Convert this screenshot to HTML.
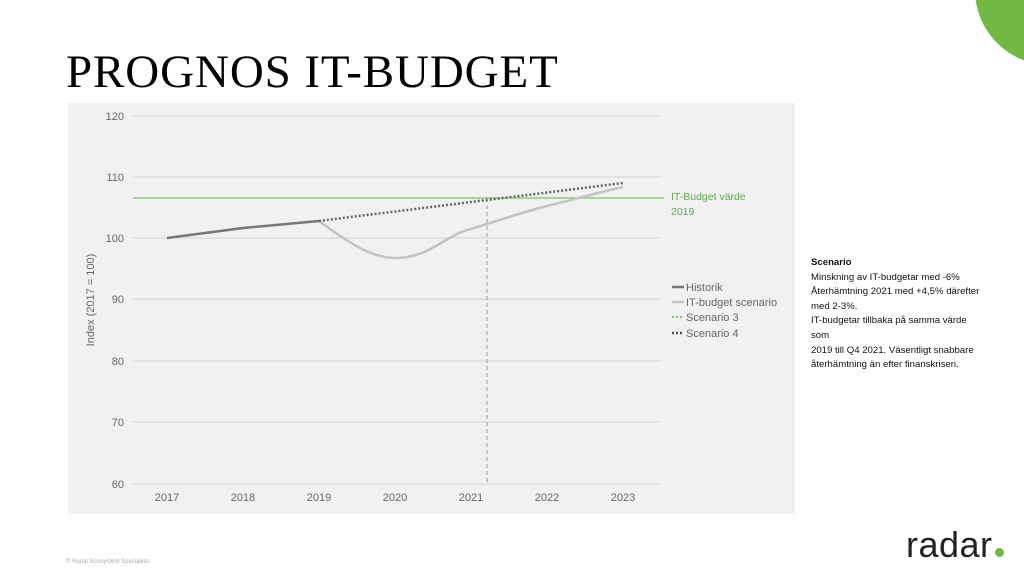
<!DOCTYPE html>
<html><head><meta charset="utf-8"><style>
body{margin:0;width:1024px;height:569px;background:#fff;overflow:hidden;position:relative;font-family:"Liberation Sans",sans-serif}
.t{position:absolute}
</style></head><body>
<div class="t" style="right:0;top:0;width:1024px;height:569px;overflow:hidden">
<div style="position:absolute;left:975px;top:-85px;width:150px;height:150px;border-radius:50%;background:#72b944"></div></div>
<div class="t" style="left:66px;top:45px;font-family:'Liberation Serif',serif;font-size:47px;color:#000;letter-spacing:0.9px">PROGNOS IT-BUDGET</div>
<svg class="t" style="left:0;top:0" width="1024" height="569">
<rect x="68" y="103" width="727" height="411" fill="#f1f1f1"/>
<g stroke="#d9d9d9" stroke-width="1.3">
<line x1="133" x2="661" y1="116" y2="116"/><line x1="133" x2="661" y1="177" y2="177"/><line x1="133" x2="661" y1="238" y2="238"/><line x1="133" x2="661" y1="299" y2="299"/><line x1="133" x2="661" y1="361" y2="361"/><line x1="133" x2="661" y1="422" y2="422"/><line x1="133" x2="661" y1="484" y2="484"/></g>
<g font-size="11" fill="#666" text-anchor="end" font-family="Liberation Sans Narrow, Liberation Sans, sans-serif">
<text x="124" y="120">120</text><text x="124" y="181">110</text><text x="124" y="242">100</text><text x="124" y="303">90</text><text x="124" y="365">80</text><text x="124" y="426">70</text><text x="124" y="488">60</text></g>
<g font-size="11" fill="#666" text-anchor="middle">
<text x="167" y="501">2017</text><text x="243" y="501">2018</text><text x="319" y="501">2019</text><text x="395" y="501">2020</text><text x="471" y="501">2021</text><text x="547" y="501">2022</text><text x="623" y="501">2023</text></g>
<text transform="translate(94,300) rotate(-90)" font-size="11" fill="#666" text-anchor="middle">Index (2017 = 100)</text>
<line x1="487" x2="487" y1="198" y2="484" stroke="#999" stroke-dasharray="4,3"/>
<line x1="133" x2="664" y1="198" y2="198" stroke="#7fbf6f" stroke-width="1.3"/>
<text x="671" y="200" font-size="10.5" fill="#5fa84a">IT-Budget värde</text>
<text x="671" y="215" font-size="10.5" fill="#5fa84a">2019</text>
<polyline points="167,238 243,228 319,221" fill="none" stroke="#777" stroke-width="2.5"/>
<path d="M319,221 C345,240 370,258 395,258 C430,258 445,235 471,229 C500,220 520,213 547,206 C580,198 600,192 623,187" fill="none" stroke="#c3c3c3" stroke-width="2.5"/>
<line x1="319" y1="221" x2="623" y2="183" stroke="#666" stroke-width="2.5" stroke-dasharray="2,2"/>
<g font-size="11" fill="#666">
<line x1="672" x2="684" y1="287" y2="287" stroke="#777" stroke-width="2.5"/><text x="686" y="291">Historik</text>
<line x1="672" x2="684" y1="302" y2="302" stroke="#c3c3c3" stroke-width="2.5"/><text x="686" y="306">IT-budget scenario</text>
<line x1="672" x2="684" y1="317" y2="317" stroke="#7fbf6f" stroke-width="2" stroke-dasharray="2,2"/><text x="686" y="321">Scenario 3</text>
<line x1="672" x2="684" y1="333" y2="333" stroke="#555" stroke-width="2.5" stroke-dasharray="2,2"/><text x="686" y="337">Scenario 4</text></g>
</svg>
<div class="t" style="left:811px;top:256px;font-size:9.6px;line-height:14.6px;color:#111;white-space:nowrap">
<b>Scenario</b><br>Minskning av IT-budgetar med -6%<br>Återhämtning 2021 med +4,5% därefter<br>med 2-3%.<br>IT-budgetar tillbaka på samma värde<br>som<br>2019 till Q4 2021. Väsentligt snabbare<br>återhämtning än efter finanskrisen.</div>
<div class="t" style="left:66px;top:559px;font-size:6px;color:#aaa">© Radar Ecosystem Specialists</div>
<div class="t" style="left:906px;top:527px;font-size:36px;color:#222;letter-spacing:0.5px;line-height:36px">radar<span style="display:inline-block;width:9px;height:9px;border-radius:50%;background:#72b944;margin-left:2px"></span></div>
</body></html>
